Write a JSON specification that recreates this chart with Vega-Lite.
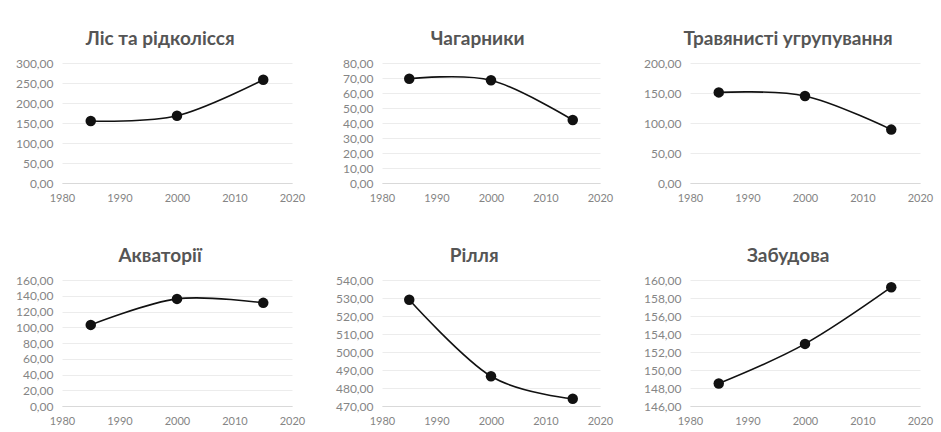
{
  "$schema": "https://vega.github.io/schema/vega-lite/v6.json",
  "background": "white",
  "padding": {"left": 15, "top": 30, "right": 5, "bottom": 5},
  "bounds": "flush",
  "columns": 3,
  "spacing": {"row": 97, "column": 90},
  "datasets": {
    "forest": [{"year": 1985, "value": 155}, {"year": 2000, "value": 168}, {"year": 2015, "value": 258}],
    "shrubs": [{"year": 1985, "value": 69.5}, {"year": 2000, "value": 68.5}, {"year": 2015, "value": 42}],
    "grass": [{"year": 1985, "value": 151}, {"year": 2000, "value": 145}, {"year": 2015, "value": 89}],
    "water": [{"year": 1985, "value": 103}, {"year": 2000, "value": 136}, {"year": 2015, "value": 131}],
    "arable": [{"year": 1985, "value": 529}, {"year": 2000, "value": 486.5}, {"year": 2015, "value": 474}],
    "built": [{"year": 1985, "value": 148.5}, {"year": 2000, "value": 152.9}, {"year": 2015, "value": 159.2}]
  },
  "concat": [
    {
      "width": 230, "height": 120, "title": "Ліс та рідколісся",
      "data": {"name": "forest"},
      "encoding": {
        "x": {"field": "year", "type": "quantitative", "scale": {"domain": [1980, 2020], "nice": false}, "axis": {"values": [1980, 1990, 2000, 2010, 2020], "format": "d", "title": null}},
        "y": {"field": "value", "type": "quantitative", "scale": {"domain": [0, 300], "nice": false, "zero": false}, "axis": {"values": [0, 50, 100, 150, 200, 250, 300], "title": null, "labelExpr": "replace(format(datum.value, '.2f'), '.', ',')"}}
      },
      "layer": [
        {"mark": {"type": "line", "interpolate": "cardinal", "tension": 0, "color": "#111111", "strokeWidth": 1.6}},
        {"mark": {"type": "point", "filled": true, "size": 110, "color": "#111111", "opacity": 1}}
      ]
    },
    {
      "width": 218, "height": 120, "title": "Чагарники",
      "data": {"name": "shrubs"},
      "encoding": {
        "x": {"field": "year", "type": "quantitative", "scale": {"domain": [1980, 2020], "nice": false}, "axis": {"values": [1980, 1990, 2000, 2010, 2020], "format": "d", "title": null}},
        "y": {"field": "value", "type": "quantitative", "scale": {"domain": [0, 80], "nice": false, "zero": false}, "axis": {"values": [0, 10, 20, 30, 40, 50, 60, 70, 80], "title": null, "labelExpr": "replace(format(datum.value, '.2f'), '.', ',')"}}
      },
      "layer": [
        {"mark": {"type": "line", "interpolate": "cardinal", "tension": 0, "color": "#111111", "strokeWidth": 1.6}},
        {"mark": {"type": "point", "filled": true, "size": 110, "color": "#111111", "opacity": 1}}
      ]
    },
    {
      "width": 230, "height": 120, "title": "Травянисті угрупування",
      "data": {"name": "grass"},
      "encoding": {
        "x": {"field": "year", "type": "quantitative", "scale": {"domain": [1980, 2020], "nice": false}, "axis": {"values": [1980, 1990, 2000, 2010, 2020], "format": "d", "title": null}},
        "y": {"field": "value", "type": "quantitative", "scale": {"domain": [0, 200], "nice": false, "zero": false}, "axis": {"values": [0, 50, 100, 150, 200], "title": null, "labelExpr": "replace(format(datum.value, '.2f'), '.', ',')"}}
      },
      "layer": [
        {"mark": {"type": "line", "interpolate": "cardinal", "tension": 0, "color": "#111111", "strokeWidth": 1.6}},
        {"mark": {"type": "point", "filled": true, "size": 110, "color": "#111111", "opacity": 1}}
      ]
    },
    {
      "width": 230, "height": 126, "title": "Акваторії",
      "data": {"name": "water"},
      "encoding": {
        "x": {"field": "year", "type": "quantitative", "scale": {"domain": [1980, 2020], "nice": false}, "axis": {"values": [1980, 1990, 2000, 2010, 2020], "format": "d", "title": null}},
        "y": {"field": "value", "type": "quantitative", "scale": {"domain": [0, 160], "nice": false, "zero": false}, "axis": {"values": [0, 20, 40, 60, 80, 100, 120, 140, 160], "title": null, "labelExpr": "replace(format(datum.value, '.2f'), '.', ',')"}}
      },
      "layer": [
        {"mark": {"type": "line", "interpolate": "cardinal", "tension": 0, "color": "#111111", "strokeWidth": 1.6}},
        {"mark": {"type": "point", "filled": true, "size": 110, "color": "#111111", "opacity": 1}}
      ]
    },
    {
      "width": 218, "height": 126, "title": "Рілля",
      "data": {"name": "arable"},
      "encoding": {
        "x": {"field": "year", "type": "quantitative", "scale": {"domain": [1980, 2020], "nice": false}, "axis": {"values": [1980, 1990, 2000, 2010, 2020], "format": "d", "title": null}},
        "y": {"field": "value", "type": "quantitative", "scale": {"domain": [470, 540], "nice": false, "zero": false}, "axis": {"values": [470, 480, 490, 500, 510, 520, 530, 540], "title": null, "labelExpr": "replace(format(datum.value, '.2f'), '.', ',')"}}
      },
      "layer": [
        {"mark": {"type": "line", "interpolate": "cardinal", "tension": 0, "color": "#111111", "strokeWidth": 1.6}},
        {"mark": {"type": "point", "filled": true, "size": 110, "color": "#111111", "opacity": 1}}
      ]
    },
    {
      "width": 230, "height": 126, "title": "Забудова",
      "data": {"name": "built"},
      "encoding": {
        "x": {"field": "year", "type": "quantitative", "scale": {"domain": [1980, 2020], "nice": false}, "axis": {"values": [1980, 1990, 2000, 2010, 2020], "format": "d", "title": null}},
        "y": {"field": "value", "type": "quantitative", "scale": {"domain": [146, 160], "nice": false, "zero": false}, "axis": {"values": [146, 148, 150, 152, 154, 156, 158, 160], "title": null, "labelExpr": "replace(format(datum.value, '.2f'), '.', ',')"}}
      },
      "layer": [
        {"mark": {"type": "line", "interpolate": "cardinal", "tension": 0, "color": "#111111", "strokeWidth": 1.6}},
        {"mark": {"type": "point", "filled": true, "size": 110, "color": "#111111", "opacity": 1}}
      ]
    }
  ],
  "config": {
    "view": {"stroke": null},
    "font": "Lato",
    "title": {"font": "Lato", "fontSize": 19, "fontWeight": "bold", "color": "#555555", "anchor": "middle", "frame": "bounds", "offset": 8},
    "axis": {"labelFont": "Lato", "labelFontSize": 11.5, "labelColor": "#858585", "ticks": false, "domain": false, "gridColor": "#ececec", "labelPadding": 9, "labelFlush": false},
    "axisX": {"grid": false, "domain": true, "domainColor": "#d9d9d9", "labelPadding": 9, "labelFontSize": 11},
    "axisY": {"grid": true, "labelFontSize": 12}
  }
}
